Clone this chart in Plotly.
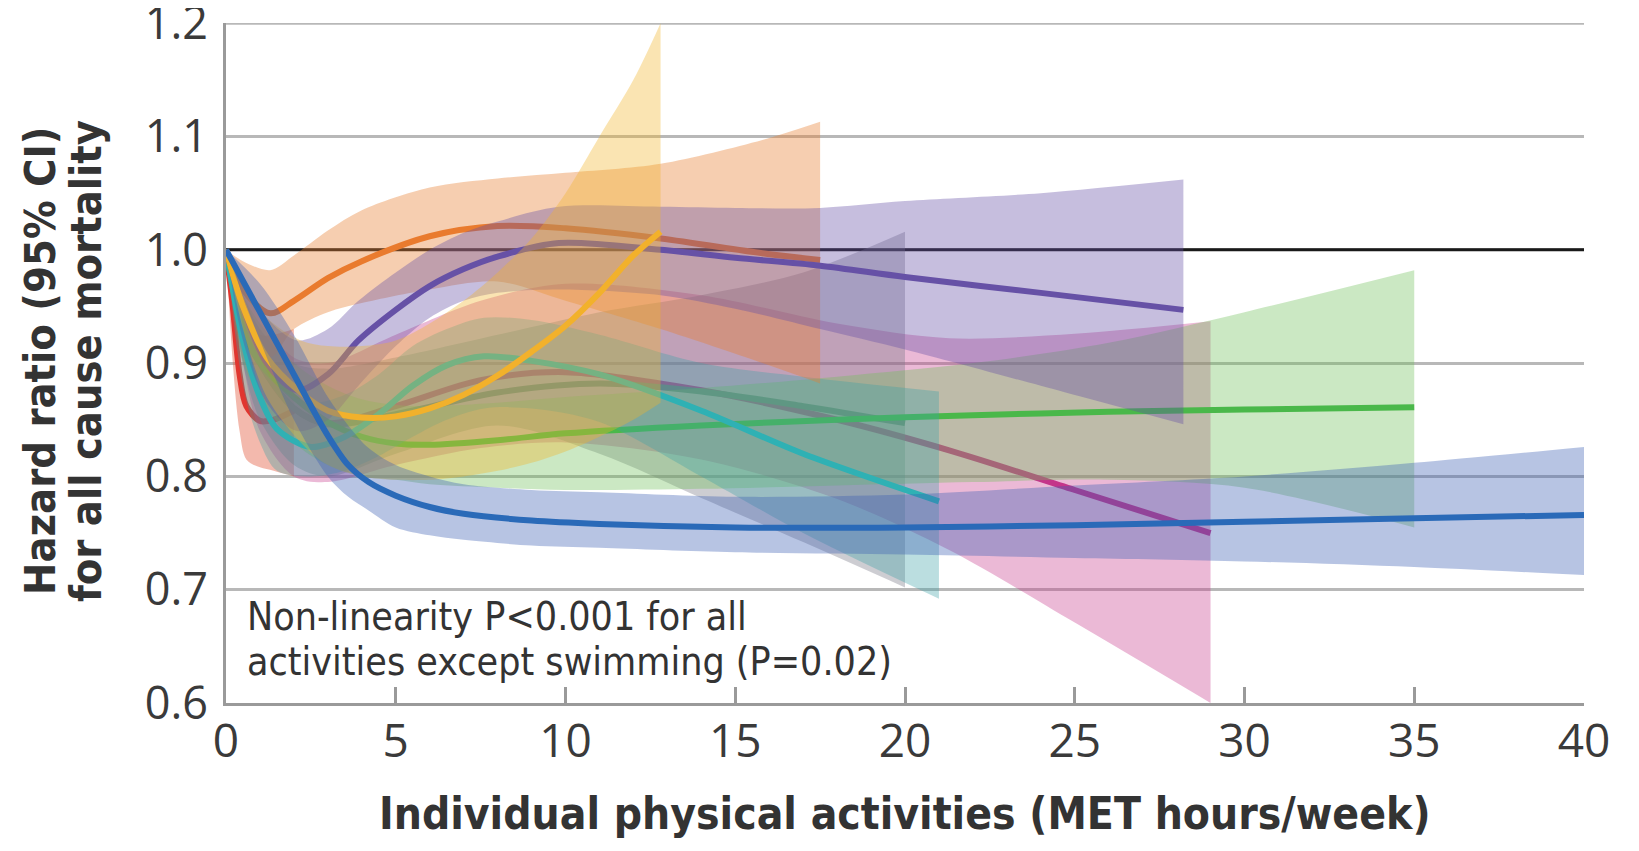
import plotly.graph_objects as go

# ---------------- data ----------------
x_ticks = [0, 5, 10, 15, 20, 25, 30, 35, 40]
y_ticks = [0.6, 0.7, 0.8, 0.9, 1.0, 1.1, 1.2]
y_tick_text = ["0.6", "0.7", "0.8", "0.9", "1.0", "1.1", "1.2"]

red_x = [0, 0.2, 0.4, 0.6, 1.0, 1.4, 2.0]
red_hr = [1.0, 0.95, 0.89, 0.862, 0.849, 0.85, 0.858]
red_lo = [1.0, 0.9, 0.84, 0.815, 0.808, 0.805, 0.80]
red_hi = [1.0, 0.985, 0.96, 0.94, 0.925, 0.925, 0.93]

magenta_x = [0, 0.5, 1, 2, 3, 5, 7.5, 10, 14, 18, 21.3, 25, 29]
magenta_hr = [1.0, 0.94, 0.9, 0.86, 0.847, 0.862, 0.885, 0.892, 0.876, 0.85, 0.823, 0.788, 0.75]
magenta_lo = [1.0, 0.9, 0.84, 0.8, 0.795, 0.81, 0.825, 0.83, 0.815, 0.78, 0.735, 0.671, 0.6]
magenta_hi = [1.0, 0.97, 0.94, 0.905, 0.9, 0.925, 0.955, 0.97, 0.96, 0.935, 0.922, 0.926, 0.937]

gray_x = [0, 0.5, 1, 2, 3, 5, 8, 11, 14, 17, 20]
gray_hr = [1.0, 0.94, 0.9, 0.86, 0.846, 0.855, 0.874, 0.882, 0.875, 0.862, 0.847]
gray_lo = [1.0, 0.9, 0.85, 0.81, 0.8, 0.82, 0.845, 0.82, 0.781, 0.742, 0.702]
gray_hi = [1.0, 0.96, 0.93, 0.9, 0.895, 0.905, 0.925, 0.945, 0.96, 0.98, 1.016]

green_x = [0, 0.5, 1, 2, 3, 4, 5, 6, 8, 10, 14, 18, 22, 26, 30, 35]
green_hr = [1.0, 0.93, 0.9, 0.87, 0.848, 0.835, 0.829, 0.828, 0.832, 0.838, 0.845, 0.85, 0.854, 0.857, 0.859, 0.861]
green_lo = [1.0, 0.9, 0.87, 0.83, 0.81, 0.80, 0.797, 0.793, 0.79, 0.788, 0.789, 0.792, 0.795, 0.797, 0.79, 0.755]
green_hi = [1.0, 0.96, 0.935, 0.9, 0.88, 0.868, 0.863, 0.862, 0.865, 0.87, 0.878, 0.888, 0.9, 0.918, 0.945, 0.982]

teal_x = [0, 0.5, 1, 1.5, 2.5, 3.5, 4.5, 5.5, 6.5, 7.6, 9, 11, 14, 17, 21]
teal_hr = [1.0, 0.92, 0.87, 0.842, 0.826, 0.835, 0.855, 0.88, 0.898, 0.906, 0.902, 0.89, 0.858, 0.82, 0.778]
teal_lo = [1.0, 0.88, 0.83, 0.805, 0.8, 0.805, 0.818, 0.835, 0.85, 0.86, 0.86, 0.848, 0.8, 0.75, 0.692]
teal_hi = [1.0, 0.95, 0.905, 0.88, 0.865, 0.872, 0.89, 0.915, 0.93, 0.94, 0.938, 0.925, 0.9, 0.888, 0.875]

orange_x = [0, 0.5, 1.3, 2, 3, 4, 6, 8, 10, 12.8, 15.8, 17.5]
orange_hr = [1.0, 0.965, 0.944, 0.955, 0.975, 0.99, 1.012, 1.021, 1.019, 1.01, 0.997, 0.991]
orange_lo = [1.0, 0.94, 0.905, 0.93, 0.945, 0.953, 0.965, 0.972, 0.955, 0.93, 0.9, 0.882]
orange_hi = [1.0, 0.99, 0.982, 0.995, 1.017, 1.035, 1.055, 1.063, 1.068, 1.076, 1.097, 1.113]

purple_x = [0, 0.5, 1.2, 2.1, 3, 3.9, 5, 6, 7, 8, 9.8, 12.8, 15, 17.5, 20, 24, 28.2]
purple_hr = [1.0, 0.95, 0.9, 0.876, 0.89, 0.92, 0.947, 0.968, 0.983, 0.994, 1.006, 1.0, 0.993, 0.986, 0.976, 0.962, 0.947]
purple_lo = [1.0, 0.92, 0.865, 0.84, 0.85, 0.88, 0.915, 0.94, 0.955, 0.962, 0.965, 0.96, 0.948, 0.93, 0.912, 0.88, 0.846]
purple_hi = [1.0, 0.975, 0.94, 0.92, 0.93, 0.955, 0.98, 1.0, 1.015, 1.025, 1.038, 1.038, 1.037, 1.037, 1.043, 1.05, 1.062]

yellow_x = [0, 0.5, 1.2, 2.2, 3, 4, 5, 6, 7, 8, 9, 10, 11, 12, 12.8]
yellow_hr = [1.0, 0.95, 0.905, 0.874, 0.858, 0.852, 0.853, 0.86, 0.872, 0.889, 0.91, 0.933, 0.962, 0.995, 1.016]
yellow_lo = [1.0, 0.93, 0.87, 0.83, 0.81, 0.8, 0.797, 0.797, 0.8, 0.805, 0.812, 0.822, 0.835, 0.85, 0.865]
yellow_hi = [1.0, 0.97, 0.94, 0.92, 0.915, 0.915, 0.92, 0.935, 0.955, 0.98, 1.01, 1.05, 1.1, 1.15, 1.2]

blue_x = [0, 1, 2, 3, 3.6, 4.2, 5, 6, 7, 9, 11, 15, 20, 25, 30, 35, 40]
blue_hr = [1.0, 0.945, 0.89, 0.836, 0.81, 0.795, 0.783, 0.773, 0.767, 0.761, 0.758, 0.755, 0.755, 0.757, 0.76, 0.763, 0.766]
blue_lo = [1.0, 0.92, 0.85, 0.80, 0.782, 0.77, 0.755, 0.748, 0.744, 0.739, 0.737, 0.733, 0.731, 0.728, 0.725, 0.72, 0.713]
blue_hi = [1.0, 0.97, 0.925, 0.87, 0.845, 0.825, 0.81, 0.8, 0.793, 0.788, 0.786, 0.782, 0.784, 0.792, 0.8, 0.812, 0.826]

# drawing order (bottom -> top): series key, line colour, band colour
series = [
    ("red", red_x, red_hr, red_lo, red_hi, "#e0362f", "rgba(226,80,50,0.40)"),
    ("magenta", magenta_x, magenta_hr, magenta_lo, magenta_hi, "#c4348a", "rgba(200,60,140,0.36)"),
    ("gray", gray_x, gray_hr, gray_lo, gray_hi, "#747b7d", "rgba(120,120,132,0.37)"),
    ("green", green_x, green_hr, green_lo, green_hi, "#4ab84a", "rgba(110,190,90,0.36)"),
    ("teal", teal_x, teal_hr, teal_lo, teal_hi, "#2fb1b4", "rgba(60,160,165,0.35)"),
    ("orange", orange_x, orange_hr, orange_lo, orange_hi, "#e97b2e", "rgba(232,125,47,0.38)"),
    ("purple", purple_x, purple_hr, purple_lo, purple_hi, "#6651a6", "rgba(101,80,166,0.37)"),
    ("yellow", yellow_x, yellow_hr, yellow_lo, yellow_hi, "#f2b12b", "rgba(242,179,42,0.36)"),
    ("blue", blue_x, blue_hr, blue_lo, blue_hi, "#2a6ab8", "rgba(60,95,180,0.37)"),
]

NARROW = "Liberation Sans Narrow, Arial Narrow, DejaVu Sans Condensed, sans-serif"
TICKFONT = "Open Sans, Lato, sans-serif"

fig = go.Figure()
for name, xs, hr, lo, hi, lc, fc in series:
    fig.add_trace(go.Scatter(x=xs, y=lo, mode="lines", line=dict(width=0, shape="spline", smoothing=0.9),
                             showlegend=False, hoverinfo="skip", name=name + " lower"))
    fig.add_trace(go.Scatter(x=xs, y=hi, mode="lines", line=dict(width=0, shape="spline", smoothing=0.9),
                             fill="tonexty", fillcolor=fc, showlegend=False, hoverinfo="skip",
                             name=name + " upper"))
    fig.add_trace(go.Scatter(x=xs, y=hr, mode="lines", line=dict(width=6, color=lc, shape="spline", smoothing=0.9),
                             showlegend=False, name=name))

# reference line at HR = 1.0 and the top gridline at 1.2
fig.add_shape(type="line", xref="x", yref="y", x0=0, x1=40, y0=1.0, y1=1.0,
              line=dict(color="#1a1a1a", width=3), layer="between")
fig.add_shape(type="line", xref="x", yref="y", x0=0, x1=40, y0=1.2, y1=1.2,
              line=dict(color="#b8b8b8", width=3), layer="between")

fig.add_annotation(x=0.55, y=0.676, xref="x", yref="y", xanchor="left", yanchor="middle",
                   text="Non-linearity P&lt;0.001 for all", showarrow=False,
                   font=dict(family=NARROW, size=39, color="#333333"))
fig.add_annotation(x=0.55, y=0.637, xref="x", yref="y", xanchor="left", yanchor="middle",
                   text="activities except swimming (P=0.02)", showarrow=False,
                   font=dict(family=NARROW, size=39, color="#333333"))

# axis titles
fig.add_annotation(x=0.5, y=-0.162, xref="paper", yref="paper", xanchor="center", yanchor="middle",
                   text="<b>Individual physical activities (MET hours/week)</b>", showarrow=False,
                   font=dict(family=NARROW, size=44, color="#333333"))
fig.add_annotation(x=-0.137, y=0.503, xref="paper", yref="paper", xanchor="center", yanchor="middle",
                   text="<b>Hazard ratio (95% CI)</b>", textangle=-90, showarrow=False,
                   font=dict(family=NARROW, size=43, color="#333333"))
fig.add_annotation(x=-0.103, y=0.503, xref="paper", yref="paper", xanchor="center", yanchor="middle",
                   text="<b>for all cause mortality</b>", textangle=-90, showarrow=False,
                   font=dict(family=NARROW, size=43, color="#333333"))

fig.update_xaxes(range=[0, 40], tickvals=x_ticks, ticktext=[str(v) for v in x_ticks],
                 showgrid=False, zeroline=False, showline=True, linecolor="#9a9a9a", linewidth=3,
                 ticks="inside", ticklen=16, tickwidth=3, tickcolor="#9a9a9a",
                 tickfont=dict(family=TICKFONT, size=46, color="#3a3a3a"), ticklabelstandoff=-4,
                 ticklabeloverflow="allow", automargin=False)
fig.update_yaxes(range=[0.6, 1.2002], tickvals=y_ticks, ticktext=y_tick_text,
                 showgrid=True, gridcolor="#b8b8b8", gridwidth=3, zeroline=False,
                 showline=True, linecolor="#9a9a9a", linewidth=3, ticks="",
                 tickfont=dict(family=TICKFONT, size=45, color="#3a3a3a"), ticklabelstandoff=6,
                 ticklabeloverflow="allow", automargin=False)

# page body has an 8px margin, so the figure is 8px smaller than the window
fig.update_layout(width=1631, height=843, autosize=False,
                  margin=dict(l=218, r=55, t=15, b=148, autoexpand=False),
                  paper_bgcolor="white", plot_bgcolor="white", showlegend=False)

fig.write_html("out.html")
